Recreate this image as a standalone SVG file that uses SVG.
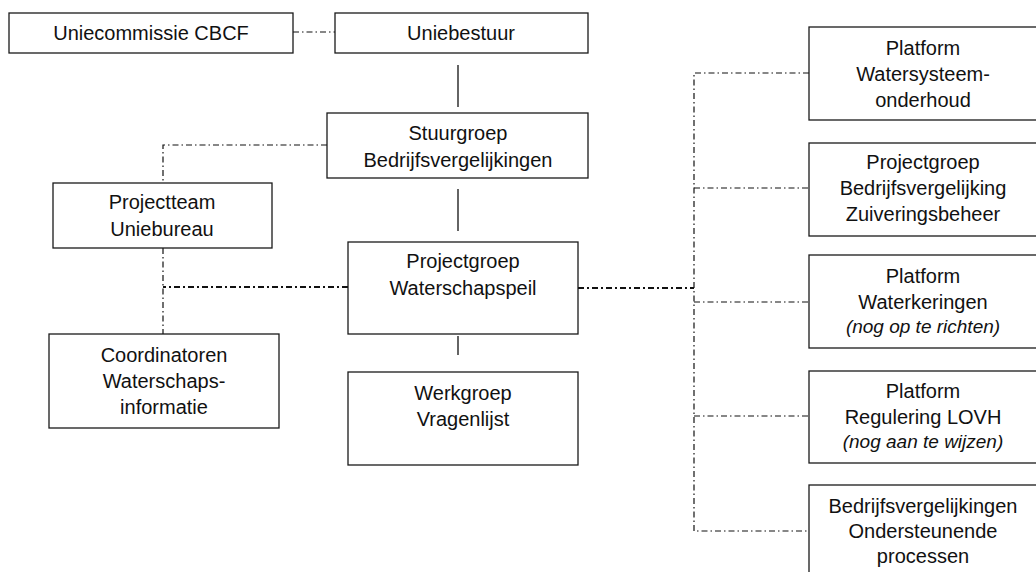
<svg xmlns="http://www.w3.org/2000/svg" width="1036" height="572" viewBox="0 0 1036 572">
<style>
.box{fill:#fff;stroke:#1a1a1a;stroke-width:1.3}
.t{font-family:"Liberation Sans",Arial,sans-serif;font-size:20px;fill:#111;text-anchor:middle}
.i{font-style:italic;font-size:19px}
.solid{stroke:#111;stroke-width:1.3;fill:none}
.dd{stroke:#111;stroke-width:1.2;fill:none;stroke-dasharray:6 3 1.5 3}
.ddb{stroke:#111;stroke-width:2;fill:none;stroke-dasharray:6 3 2 3}
</style>
<rect width="1036" height="572" fill="#fff"/>
<g id="connectors">
<path class="dd" d="M293 32 H335"/>
<path class="solid" d="M458 65 V107"/>
<path class="solid" d="M458 189 V231"/>
<path class="solid" d="M458 336 V355"/>
<path class="dd" d="M327 145 H163 V183"/>
<path class="dd" d="M163 248 V334"/>
<path class="ddb" d="M348 287 H163"/>
<path class="ddb" d="M578 288 H694"/>
<path class="dd" d="M809 73 H694 V531 H809"/>
<path class="dd" d="M694 188 H809"/>
<path class="dd" d="M694 302 H809"/>
<path class="dd" d="M694 416 H809"/>
</g>
<g id="uniecommissie">
<rect class="box" x="9" y="13" width="284" height="40"/>
<text class="t" x="151" y="40">Uniecommissie CBCF</text>
</g>
<g id="uniebestuur">
<rect class="box" x="335" y="13" width="253" height="40"/>
<text class="t" x="461" y="40">Uniebestuur</text>
</g>
<g id="stuurgroep">
<rect class="box" x="327" y="113" width="261" height="65"/>
<text class="t" x="458" y="140">Stuurgroep</text>
<text class="t" x="458" y="167">Bedrijfsvergelijkingen</text>
</g>
<g id="projectteam">
<rect class="box" x="53" y="183" width="219" height="65"/>
<text class="t" x="162" y="209">Projectteam</text>
<text class="t" x="162" y="236">Uniebureau</text>
</g>
<g id="projectgroep">
<rect class="box" x="348" y="242" width="230" height="92"/>
<text class="t" x="463" y="268">Projectgroep</text>
<text class="t" x="463" y="295">Waterschapspeil</text>
</g>
<g id="coordinatoren">
<rect class="box" x="49" y="334" width="230" height="94"/>
<text class="t" x="164" y="362">Coordinatoren</text>
<text class="t" x="164" y="388">Waterschaps-</text>
<text class="t" x="164" y="414">informatie</text>
</g>
<g id="werkgroep">
<rect class="box" x="348" y="372" width="230" height="93"/>
<text class="t" x="463" y="400">Werkgroep</text>
<text class="t" x="463" y="426">Vragenlijst</text>
</g>
<g id="platform-watersysteem">
<rect class="box" x="809" y="27" width="232" height="93"/>
<text class="t" x="923" y="55">Platform</text>
<text class="t" x="923" y="81">Watersysteem-</text>
<text class="t" x="923" y="107">onderhoud</text>
</g>
<g id="projectgroep-zuivering">
<rect class="box" x="809" y="143" width="232" height="93"/>
<text class="t" x="923" y="169">Projectgroep</text>
<text class="t" x="923" y="195">Bedrijfsvergelijking</text>
<text class="t" x="923" y="221">Zuiveringsbeheer</text>
</g>
<g id="platform-waterkeringen">
<rect class="box" x="809" y="255" width="232" height="93"/>
<text class="t" x="923" y="283">Platform</text>
<text class="t" x="923" y="309">Waterkeringen</text>
<text class="t i" x="923" y="333">(nog op te richten)</text>
</g>
<g id="platform-lovh">
<rect class="box" x="809" y="371" width="232" height="92"/>
<text class="t" x="923" y="398">Platform</text>
<text class="t" x="923" y="424">Regulering LOVH</text>
<text class="t i" x="923" y="448">(nog aan te wijzen)</text>
</g>
<g id="ondersteunende">
<rect class="box" x="809" y="485" width="232" height="93"/>
<text class="t" x="923" y="513">Bedrijfsvergelijkingen</text>
<text class="t" x="923" y="538">Ondersteunende</text>
<text class="t" x="923" y="563">processen</text>
</g>
</svg>
